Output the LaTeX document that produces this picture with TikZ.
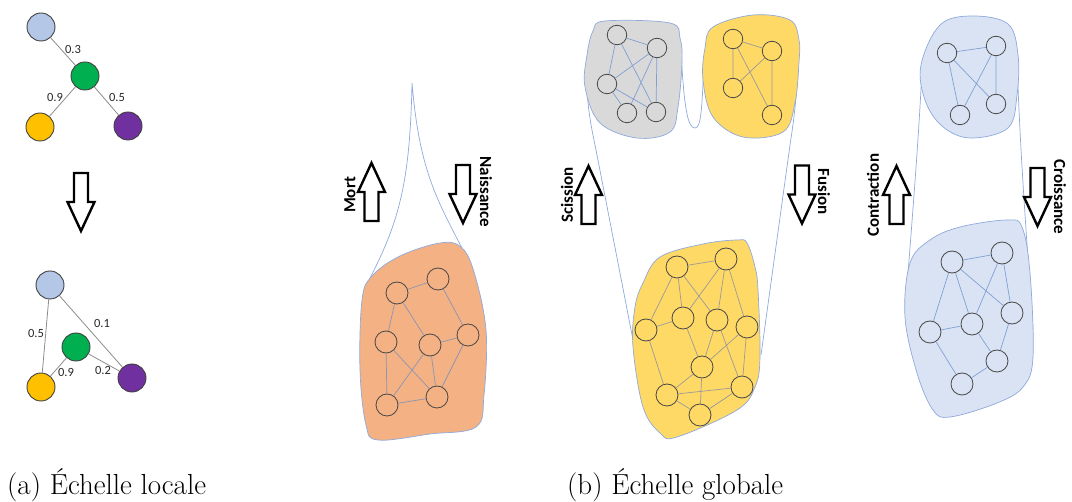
\documentclass[tikz,border=0pt]{standalone}
\usepackage{fontspec}
\newfontfamily\calib{Carlito}
\definecolor{cblue}{HTML}{B4C7E7}
\definecolor{cgreen}{HTML}{00B050}
\definecolor{cyellow}{HTML}{FFC000}
\definecolor{cpurple}{HTML}{7030A0}
\definecolor{forange}{HTML}{F4B183}
\definecolor{fyellow}{HTML}{FFD966}
\definecolor{fgray}{HTML}{D9D9D9}
\definecolor{fblue}{HTML}{DAE3F3}
\definecolor{envc}{HTML}{8EA9DB}
\definecolor{linkb}{HTML}{7F9FD6}
\definecolor{linkg}{HTML}{9A9A9A}
\definecolor{linko}{HTML}{8A95B5}
\begin{document}
\begin{tikzpicture}[x=1pt,y=-1pt,
  bub/.style={circle,draw=black!72,line width=0.8pt,inner sep=0pt,minimum size=22pt},
  sbub/.style={bub,minimum size=19.5pt},
  ctr/.style={circle,draw=black!75,line width=0.9pt,inner sep=0pt,minimum size=28pt},
  wedge/.style={draw=black!45,line width=0.8pt},
  wlab/.style={font=\calib\fontsize{12.5}{14}\selectfont,inner sep=0pt,text=black!85},
  albl/.style={font=\calib\bfseries\fontsize{17}{19}\selectfont,inner sep=0pt},
  env/.style={draw=envc,line width=0.7pt},
  blob/.style={draw=envc,line width=0.7pt},
  lkb/.style={draw=linkb,line width=0.7pt},
  lkg/.style={draw=linkg,line width=0.7pt},
  lko/.style={draw=linko,line width=0.7pt},
  blockarr/.style={draw=black,fill=white,line width=2.4pt,line join=miter},
  blockup/.pic={\draw[blockarr] (0,0)--(13.5,29)--(7,29)--(7,58)--(-7,58)--(-7,29)--(-13.5,29)--cycle;},
  blockdown/.pic={\draw[blockarr] (0,0)--(13.5,-29)--(7,-29)--(7,-58)--(-7,-58)--(-7,-29)--(-13.5,-29)--cycle;},
  captxt/.style={font=\fontsize{29}{33}\selectfont,inner sep=0pt,anchor=base west}
]
\useasboundingbox (0,0) rectangle (1072,502);

% ---------------- (a) local scale ----------------
\node[ctr,fill=cblue] (ta) at (41,27) {};
\node[ctr,fill=cgreen] (tb) at (85,76) {};
\node[ctr,fill=cyellow] (tc) at (40,127) {};
\node[ctr,fill=cpurple] (td) at (128,126) {};
\draw[wedge] (ta)--(tb) (tb)--(tc) (tb)--(td);
\node[wlab] (l1) at (73,49) {0.3};
\node[wlab] (l2) at (55,97) {0.9};
\node[wlab] (l3) at (117,97) {0.5};

\pic at (81,231) {blockdown};

\node[ctr,fill=cblue] (ba) at (50,285) {};
\node[ctr,fill=cgreen] (bb) at (76,347) {};
\node[ctr,fill=cyellow] (bc) at (41,387) {};
\node[ctr,fill=cpurple] (bd) at (132,378) {};
\draw[wedge] (ba)--(bc) (ba)--(bd) (bb)--(bc) (bb)--(bd);
\node[wlab] (l4) at (36,333) {0.5};
\node[wlab] (l5) at (102,323) {0.1};
\node[wlab] (l6) at (66,372) {0.9};
\node[wlab] (l7) at (103,370) {0.2};

\node[captxt] (capa) at (7,495) {(a) Échelle locale};

% ---------------- birth / death ----------------
\draw[env] (370,278) .. controls (400,220) and (410,180) .. (412,83)
           .. controls (419,165) and (434,195) .. (462,248);
\fill[forange] plot[smooth cycle, tension=0.6] coordinates {(362,300) (372,276) (400,256) (440,243) (461,247) (474,272) (486,330) (484,395) (476,427) (430,434) (378,440) (366,425) (360,370)};
\draw[blob] plot[smooth cycle, tension=0.6] coordinates {(362,300) (372,276) (400,256) (440,243) (461,247) (474,272) (486,330) (484,395) (476,427) (430,434) (378,440) (366,425) (360,370)};
\node[bub] (o1) at (438,279) {};
\node[bub] (o2) at (397,293) {};
\node[bub] (o3) at (468,335) {};
\node[bub] (o4) at (386,342) {};
\node[bub] (o5) at (430,345) {};
\node[bub] (o6) at (387,405) {};
\node[bub] (o7) at (437,397) {};
\draw[lko] (o2)--(o1) (o1)--(o3) (o2)--(o4) (o2)--(o5) (o4)--(o6) (o4)--(o7)
           (o5)--(o3) (o5)--(o6) (o5)--(o7) (o3)--(o7) (o6)--(o7);
\pic at (371.5,163) {blockup};
\pic at (463,223) {blockdown};
\node[albl,rotate=90] (tmort) at (350,195) {Mort};
\node[albl,rotate=-90] (tnai) at (486,192) {Naissance};

% ---------------- split / merge ----------------
\draw[env] (586,70) .. controls (587,110) and (592,130) .. (596,150) -- (634,345);
\draw[env] (681,50) .. controls (684,110) and (688,128) .. (695,128) .. controls (701,128) and (702,110) .. (704,60);
\draw[env] (799,50) .. controls (797,100) and (793,125) .. (790,145) -- (761,355);

\fill[fgray] plot[smooth cycle, tension=0.6] coordinates {(593,31) (605,21) (670,23) (680,38) (682,62) (678,107) (670,132) (637,138) (600,123) (585,87) (587,55)};
\draw[blob] plot[smooth cycle, tension=0.6] coordinates {(593,31) (605,21) (670,23) (680,38) (682,62) (678,107) (670,132) (637,138) (600,123) (585,87) (587,55)};
\node[sbub] (g1) at (617,35) {};
\node[sbub] (g2) at (657,48) {};
\node[sbub] (g3) at (607,84) {};
\node[sbub] (g4) at (627,113) {};
\node[sbub] (g5) at (656,112) {};
\draw[lkb] (g1)--(g2) (g1)--(g3) (g1)--(g5) (g2)--(g3) (g2)--(g4) (g2)--(g5) (g3)--(g4) (g3)--(g5);

\fill[fyellow] plot[smooth cycle, tension=0.6] coordinates {(713,27) (753,15) (790,20) (799,40) (799,62) (795,103) (783,132) (743,137) (713,117) (703,80) (705,48)};
\draw[blob] plot[smooth cycle, tension=0.6] coordinates {(713,27) (753,15) (790,20) (799,40) (799,62) (795,103) (783,132) (743,137) (713,117) (703,80) (705,48)};
\node[sbub] (y1) at (733,39) {};
\node[sbub] (y2) at (772,51) {};
\node[sbub] (y3) at (733,88) {};
\node[sbub] (y4) at (772,115) {};
\draw[lkg] (y1)--(y2) (y1)--(y3) (y1)--(y4) (y2)--(y3) (y2)--(y4);

\fill[fyellow] plot[smooth cycle, tension=0.6] coordinates {(643,283) (660,257) (703,244) (737,240) (747,243) (755,267) (758,290) (760,357) (755,387) (737,410) (677,437) (660,433) (643,407) (633,347) (635,307)};
\draw[blob] plot[smooth cycle, tension=0.6] coordinates {(643,283) (660,257) (703,244) (737,240) (747,243) (755,267) (758,290) (760,357) (755,387) (737,410) (677,437) (660,433) (643,407) (633,347) (635,307)};
\node[bub] (b1) at (677,267) {};
\node[bub] (b2) at (726,259) {};
\node[bub] (b3) at (646,330) {};
\node[bub] (b4) at (683,318) {};
\node[bub] (b5) at (717,320) {};
\node[bub] (b6) at (747,327) {};
\node[bub] (b7) at (702,367) {};
\node[bub] (b8) at (667,395) {};
\node[bub] (b9) at (742,387) {};
\node[bub] (b10) at (700,415) {};
\draw[lkg] (b1)--(b2) (b1)--(b3) (b1)--(b4) (b1)--(b5) (b2)--(b4) (b2)--(b5) (b2)--(b6)
           (b3)--(b4) (b3)--(b8) (b4)--(b7) (b5)--(b7) (b5)--(b9) (b6)--(b7) (b6)--(b9)
           (b7)--(b8) (b7)--(b10) (b8)--(b9) (b8)--(b10) (b10)--(b9);
\pic at (588.5,166) {blockup};
\pic at (802,223.5) {blockdown};
\node[albl,rotate=90] (tsci) at (567,195) {Scission};
\node[albl,rotate=-90] (tfus) at (824,192) {Fusion};

% ---------------- growth / contraction ----------------
\draw[env] (922,70) .. controls (918,150) and (912,220) .. (906,300);
\draw[env] (1017,60) .. controls (1020,150) and (1026,230) .. (1033,330);

\fill[fblue] plot[smooth cycle, tension=0.6] coordinates {(940,25) (972,16) (1008,24) (1018,55) (1017,95) (1008,128) (970,138) (942,126) (925,100) (921,65)};
\draw[blob] plot[smooth cycle, tension=0.6] coordinates {(940,25) (972,16) (1008,24) (1018,55) (1017,95) (1008,128) (970,138) (942,126) (925,100) (921,65)};
\node[sbub] (t1) at (947,53) {};
\node[sbub] (t2) at (996,46) {};
\node[sbub] (t3) at (996,104) {};
\node[sbub] (t4) at (960,115) {};
\draw[lkb] (t1)--(t2) (t1)--(t3) (t1)--(t4) (t2)--(t3) (t2)--(t4);

\fill[fblue] plot[smooth cycle, tension=0.6] coordinates {(930,240) (960,227) (1007,220) (1022,227) (1030,273) (1033,357) (1023,387) (997,403) (950,417) (933,410) (917,373) (905,317) (910,263)};
\draw[blob] plot[smooth cycle, tension=0.6] coordinates {(930,240) (960,227) (1007,220) (1022,227) (1030,273) (1033,357) (1023,387) (997,403) (950,417) (933,410) (917,373) (905,317) (910,263)};
\node[bub] (c1) at (952,262) {};
\node[bub] (c2) at (1002,253) {};
\node[bub] (c3) at (1012,313) {};
\node[bub] (c4) at (972,324) {};
\node[bub] (c5) at (930,332) {};
\node[bub] (c6) at (997,361) {};
\node[bub] (c7) at (962,384) {};
\draw[lkb] (c1)--(c2) (c1)--(c3) (c1)--(c4) (c1)--(c5) (c2)--(c4) (c2)--(c3)
           (c4)--(c5) (c4)--(c6) (c3)--(c6) (c5)--(c7) (c6)--(c7);
\pic at (896.5,166) {blockup};
\pic at (1037.5,226) {blockdown};
\node[albl,rotate=90] (tcon) at (873,195) {Contraction};
\node[albl,rotate=-90] (tcro) at (1060,197) {Croissance};

\node[captxt] (capb) at (567,495) {(b) Échelle globale};
\end{tikzpicture}
\end{document}
